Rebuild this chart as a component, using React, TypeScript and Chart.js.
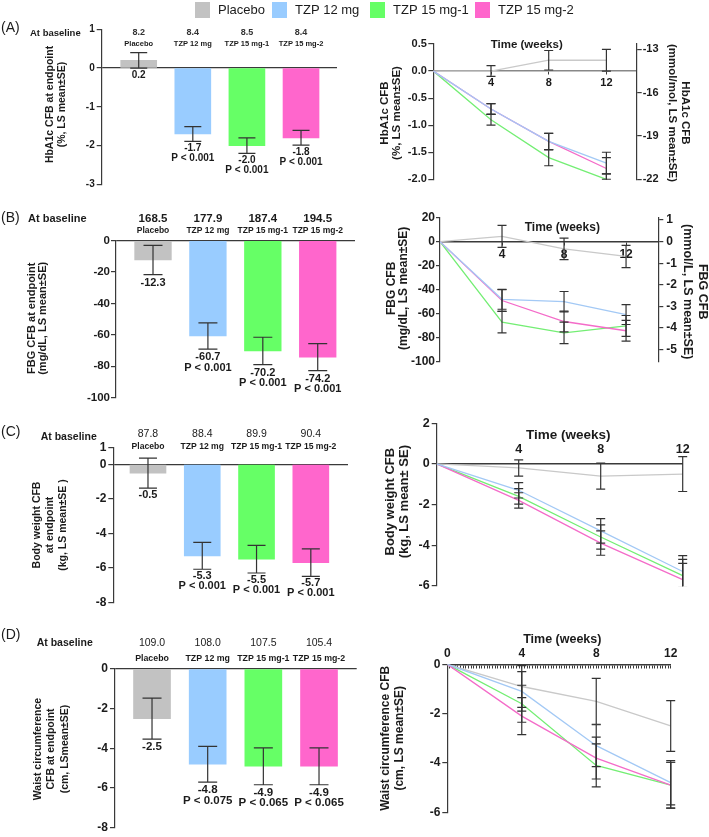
import React, { useEffect, useRef } from "react";
import { Chart, registerables } from "chart.js";

Chart.register(...registerables);

const W = 709;
const H = 837;
const FONT = "'Liberation Sans', Arial, Helvetica, sans-serif";
const TXT = "#1b1b1b";
const AXIS = "#3a3a3a";
const ERR = "#333333";

// ===== shared categories =====
const groups = ["Placebo", "TZP 12 mg", "TZP 15 mg-1", "TZP 15 mg-2"];
const barColors = ["#c2c2c2", "#99ccff", "#66ff66", "#ff66cc"];
const lineColors = ["#c9c9c9", "#a3c9f5", "#74ee74", "#f46cc9"];
const weeks = [0, 4, 8, 12];

// ===== (A) HbA1c =====
const hba1cBaseline = ["8.2", "8.4", "8.5", "8.4"];
const hba1cEndpoint = [0.2, -1.7, -2.0, -1.8];
const hba1cEndpointSE = [0.2, 0.19, 0.2, 0.19];
const hba1cP = ["", "P < 0.001", "P < 0.001", "P < 0.001"];
const hba1cBarTicks = [1, 0, -1, -2, -3];
const hba1cPlacebo = [0, 0, 0.2, 0.2];
const hba1cPlaceboSE = [0, 0.1, 0.18, 0.2];
const hba1cTzp12 = [0, -0.7, -1.3, -1.7];
const hba1cTzp12SE = [0, 0.1, 0.15, 0.2];
const hba1cTzp15a = [0, -0.9, -1.6, -2.0];
const hba1cTzp15aSE = [0, 0.1, 0.15, 0.1];
const hba1cTzp15b = [0, -0.7, -1.3, -1.8];
const hba1cTzp15bSE = [0, 0.1, 0.15, 0.2];
const hba1cLineTicks = [0.5, 0, -0.5, -1, -1.5, -2];
const hba1cMmolTicks = [-13, -16, -19, -22];

// ===== (B) FBG =====
const fbgBaseline = ["168.5", "177.9", "187.4", "194.5"];
const fbgEndpoint = [-12.3, -60.7, -70.2, -74.2];
const fbgEndpointSE = [9.3, 8.3, 8.7, 8.6];
const fbgP = ["", "P < 0.001", "P < 0.001", "P < 0.001"];
const fbgBarTicks = [0, -20, -40, -60, -80, -100];
const fbgPlacebo = [0, 4.4, -6, -12.3];
const fbgPlaceboSE = [0, 9.2, 9, 9.3];
const fbgTzp12 = [0, -48, -50, -60.7];
const fbgTzp12SE = [0, 8.3, 8.5, 8.3];
const fbgTzp15a = [0, -67, -76, -70.2];
const fbgTzp15aSE = [0, 9, 9, 8.7];
const fbgTzp15b = [0, -49, -66.5, -74.2];
const fbgTzp15bSE = [0, 9, 8.7, 8.6];
const fbgLineTicks = [20, 0, -20, -40, -60, -80, -100];
const fbgMmolTicks = [1, 0, -1, -2, -3, -4, -5];
const mgdlPerMmol = 18;

// ===== (C) Body weight =====
const bwBaseline = ["87.8", "88.4", "89.9", "90.4"];
const bwEndpoint = [-0.5, -5.3, -5.5, -5.7];
const bwEndpointSE = [0.87, 0.78, 0.8, 0.8];
const bwP = ["", "P < 0.001", "P < 0.001", "P < 0.001"];
const bwBarTicks = [1, 0, -2, -4, -6, -8];
const bwPlacebo = [0, -0.2, -0.6, -0.5];
const bwPlaceboSE = [0, 0.4, 0.64, 0.86];
const bwTzp12 = [0, -1.3, -3.3, -5.3];
const bwTzp12SE = [0, 0.38, 0.6, 0.78];
const bwTzp15a = [0, -1.6, -3.6, -5.5];
const bwTzp15aSE = [0, 0.38, 0.6, 0.8];
const bwTzp15b = [0, -1.8, -3.9, -5.7];
const bwTzp15bSE = [0, 0.38, 0.6, 0.8];
const bwLineTicks = [2, 0, -2, -4, -6];

// ===== (D) Waist circumference =====
const wcBaseline = ["109.0", "108.0", "107.5", "105.4"];
const wcEndpoint = [-2.5, -4.8, -4.9, -4.9];
const wcEndpointSE = [1.03, 0.9, 0.93, 0.93];
const wcP = ["", "P < 0.075", "P < 0.065", "P < 0.065"];
const wcBarTicks = [0, -2, -4, -6, -8];
const wcPlacebo = [0, -0.9, -1.5, -2.5];
const wcPlaceboSE = [0, 0.85, 0.93, 1.03];
const wcTzp12 = [0, -1.1, -3.3, -4.8];
const wcTzp12SE = [0, 0.8, 0.85, 0.9];
const wcTzp15a = [0, -1.6, -4.1, -4.9];
const wcTzp15aSE = [0, 0.75, 0.87, 0.93];
const wcTzp15b = [0, -2.1, -3.8, -4.9];
const wcTzp15bSE = [0, 0.75, 0.85, 0.93];
const wcLineTicks = [0, -2, -4, -6];
const weekTicks = [4, 8, 12];
const dayTicks = Array.from({ length: 85 }, (_, i) => i / 7);

// ===== helpers =====
const f = (size: number, weight: string = "bold") => `${weight} ${size}px ${FONT}`;
const int = (v: number) => String(v);
const oneDec = (v: number) => (v === 0 ? "0.0" : v.toFixed(1));

type VTitle = { lines: string[]; x: number; y: number; font: number; lh: number; dir: number };

function drawVTitle(ctx: CanvasRenderingContext2D, t: VTitle) {
  ctx.save();
  ctx.translate(t.x, t.y);
  ctx.rotate((t.dir * Math.PI) / 2);
  ctx.font = f(t.font);
  ctx.fillStyle = TXT;
  ctx.textAlign = "center";
  ctx.textBaseline = "middle";
  t.lines.forEach((s, i) => ctx.fillText(s, 0, i * t.lh));
  ctx.restore();
}

function yAxis(o: any) {
  return {
    type: "linear",
    position: o.position || "left",
    min: o.min,
    max: o.max,
    afterFit: (s: any) => {
      s.width = 40;
    },
    afterBuildTicks: (s: any) => {
      s.ticks = o.ticks.map((v: number) => ({ value: v }));
    },
    ticks: {
      callback: (v: number) => o.fmt(v),
      font: { family: FONT, size: o.tickFont, weight: "bold" },
      color: TXT,
      padding: o.tickPad,
      autoSkip: false,
    },
    grid: {
      display: true,
      drawOnChartArea: !!o.zeroLine,
      color: (c: any) => (o.zeroLine && c.tick && c.tick.value === 0 ? AXIS : "rgba(0,0,0,0)"),
      tickColor: AXIS,
      tickLength: o.tickLen,
      lineWidth: 1.2,
    },
    border: { display: true, color: o.borderColor || AXIS, width: 1.2 },
    title: { display: false },
  };
}

// ===== bar panels =====
type BarPanel = any;

const barPanels: BarPanel[] = [
  {
    letter: "(A)", letterY: 28, legend: true,
    baseline: hba1cBaseline, values: hba1cEndpoint, se: hba1cEndpointSE, pvals: hba1cP,
    yMin: -3, yMax: 1, yTicks: hba1cBarTicks, fmt: int,
    area: { l: 101.7, t: 29.3, r: 337, b: 184.3 },
    xMin: -0.684, xMax: 3.665, barW: 36, cap: 17,
    tickFont: 10, tickPad: 2, tickLen: 5,
    title: { lines: ["HbA1c CFB at endpoint", "(%, LS mean±SE)"], x: 50, y: 104.5, font: 10.5, lh: 11.7, dir: -1 },
    head: { atX: 30, atY: 33.3, atFont: 9.5, valY: 33, valFont: 9, valWeight: "bold", valColor: "#333", nameY: 44.3, nameFont: 7.5 },
    lab: { font: 10, gap: 2, step: 10 },
  },
  {
    letter: "(B)", letterY: 218.3,
    baseline: fbgBaseline, values: fbgEndpoint, se: fbgEndpointSE, pvals: fbgP,
    yMin: -100, yMax: 0, yTicks: fbgBarTicks, fmt: int,
    area: { l: 116, t: 240.7, r: 355, b: 397.7 },
    xMin: -0.674, xMax: 3.679, barW: 36.7, cap: 19,
    tickFont: 11.5, tickPad: 1, tickLen: 5,
    title: { lines: ["FBG CFB at endpoint", "(mg/dL, LS mean±SE)"], x: 32.3, y: 318.3, font: 11, lh: 11, dir: -1 },
    head: { atX: 28, atY: 219, atFont: 11, valY: 219, valFont: 11.5, valWeight: "bold", valColor: TXT, nameY: 231, nameFont: 8.5 },
    lab: { font: 11, gap: 2.5, step: 10.7 },
  },
  {
    letter: "(C)", letterY: 431.7,
    baseline: bwBaseline, values: bwEndpoint, se: bwEndpointSE, pvals: bwP,
    yMin: -8, yMax: 1, yTicks: bwBarTicks, fmt: int,
    area: { l: 113.3, t: 447.3, r: 348, b: 602.3 },
    xMin: -0.639, xMax: 3.685, barW: 36, cap: 18,
    tickFont: 12, tickPad: 2, tickLen: 5,
    title: { lines: ["Body weight CFB", "at endpoint", "(kg, LS mean±SE )"], x: 37.3, y: 525, font: 10.5, lh: 13, dir: -1 },
    head: { atX: 40.7, atY: 437.3, atFont: 10.5, valY: 434.3, valFont: 10.5, valWeight: "normal", valColor: TXT, nameY: 446.7, nameFont: 8.6 },
    lab: { font: 11, gap: 1.5, step: 9.5 },
  },
  {
    letter: "(D)", letterY: 635,
    baseline: wcBaseline, values: wcEndpoint, se: wcEndpointSE, pvals: wcP,
    yMin: -8, yMax: 0, yTicks: wcBarTicks, fmt: int,
    area: { l: 115, t: 669, r: 356.7, b: 829.3 },
    xMin: -0.665, xMax: 3.677, barW: 37, cap: 19,
    tickFont: 12, tickPad: 2, tickLen: 5,
    title: { lines: ["Waist circumference", "CFB at endpoint", "(cm, LSmean±SE)"], x: 38.3, y: 749, font: 10.5, lh: 13.3, dir: -1 },
    head: { atX: 36.7, atY: 643.3, atFont: 10.5, valY: 643.3, valFont: 10.5, valWeight: "normal", valColor: TXT, nameY: 658.3, nameFont: 8.8 },
    lab: { font: 11.5, gap: 2, step: 10.7 },
  },
];

const legendX = [195, 272, 370, 475];

function barPlugin(p: BarPanel) {
  return {
    id: "barDeco",
    afterDatasetsDraw(chart: any) {
      const ctx: CanvasRenderingContext2D = chart.ctx;
      const ys = chart.scales.y;
      const meta = chart.getDatasetMeta(0);
      ctx.save();
      meta.data.forEach((el: any, j: number) => {
        const x = el.x;
        const hi = ys.getPixelForValue(p.values[j] + p.se[j]);
        const lo = ys.getPixelForValue(p.values[j] - p.se[j]);
        const c = p.cap / 2;
        ctx.strokeStyle = ERR;
        ctx.lineWidth = 1.2;
        ctx.beginPath();
        ctx.moveTo(x, hi);
        ctx.lineTo(x, lo);
        ctx.moveTo(x - c, hi);
        ctx.lineTo(x + c, hi);
        ctx.moveTo(x - c, lo);
        ctx.lineTo(x + c, lo);
        ctx.stroke();

        ctx.fillStyle = TXT;
        ctx.textAlign = "center";
        ctx.textBaseline = "top";
        ctx.font = f(p.lab.font);
        ctx.fillText(p.values[j].toFixed(1), x, lo + p.lab.gap);
        if (p.pvals[j]) ctx.fillText(p.pvals[j], x, lo + p.lab.gap + p.lab.step);

        ctx.textBaseline = "middle";
        ctx.font = f(p.head.valFont, p.head.valWeight);
        ctx.fillStyle = p.head.valColor;
        ctx.fillText(p.baseline[j], x, p.head.valY);
        ctx.font = f(p.head.nameFont);
        ctx.fillStyle = TXT;
        ctx.fillText(groups[j], x, p.head.nameY);
      });

      ctx.textAlign = "left";
      ctx.textBaseline = "middle";
      ctx.fillStyle = TXT;
      ctx.font = f(p.head.atFont);
      ctx.fillText("At baseline", p.head.atX, p.head.atY);
      ctx.font = f(14, "normal");
      ctx.fillText(p.letter, 1, p.letterY);
      drawVTitle(ctx, p.title);

      if (p.legend) {
        groups.forEach((g, i) => {
          ctx.fillStyle = barColors[i];
          ctx.fillRect(legendX[i], 2, 15, 16);
          ctx.fillStyle = TXT;
          ctx.font = f(13, "normal");
          ctx.textAlign = "left";
          ctx.textBaseline = "middle";
          ctx.fillText(g, legendX[i] + 23, 10.5);
        });
      }
      ctx.restore();
    },
  };
}

function barConfig(p: BarPanel) {
  const padding = { left: p.area.l - 40, top: p.area.t, right: W - p.area.r, bottom: H - p.area.b };
  return {
    type: "bar",
    data: {
      datasets: [
        {
          data: p.values.map((v: number, i: number) => ({ x: i, y: v })),
          backgroundColor: barColors,
          borderWidth: 0,
          barThickness: p.barW,
        },
      ],
    },
    options: {
      responsive: false,
      animation: false,
      events: [],
      layout: { padding },
      plugins: { legend: { display: false }, tooltip: { enabled: false }, title: { display: false } },
      scales: {
        x: { type: "linear", min: p.xMin, max: p.xMax, display: false, offset: false },
        y: yAxis({ min: p.yMin, max: p.yMax, ticks: p.yTicks, fmt: p.fmt, tickFont: p.tickFont, tickPad: p.tickPad, tickLen: p.tickLen, zeroLine: true }),
      },
    },
    plugins: [barPlugin(p)],
  };
}

// ===== line panels =====
type LinePanel = any;

const linePanels: LinePanel[] = [
  {
    series: [
      { v: hba1cPlacebo, se: hba1cPlaceboSE },
      { v: hba1cTzp12, se: hba1cTzp12SE },
      { v: hba1cTzp15a, se: hba1cTzp15aSE },
      { v: hba1cTzp15b, se: hba1cTzp15bSE },
    ],
    area: { l: 433.3, t: 44, r: 636.7, b: 179.3 },
    y: { min: -2, max: 0.5, ticks: hba1cLineTicks, fmt: oneDec, tickFont: 11, tickPad: 1.5, tickLen: 5 },
    y2: { min: -22, max: -12.63, ticks: hba1cMmolTicks, fmt: int, tickFont: 11, tickPad: 1, tickLen: 5 },
    titles: [
      { lines: ["HbA1c CFB", "(%, LS mean±SE)"], x: 385, y: 113, font: 11.5, lh: 11.7, dir: -1 },
      { lines: ["HbA1c CFB", "(mmol/mol, LS mean±SE)"], x: 685, y: 113, font: 11.5, lh: 12.5, dir: 1 },
    ],
    x: { max: 14.1, ticks: weekTicks, label: int, font: 11, pad: 2, tickLen: 3, color: "#888", width: 1.5, dash: [] },
    time: { x: 526.7, y: 45, font: 11.5 },
    cap: 9,
  },
  {
    series: [
      { v: fbgPlacebo, se: fbgPlaceboSE },
      { v: fbgTzp12, se: fbgTzp12SE },
      { v: fbgTzp15a, se: fbgTzp15aSE },
      { v: fbgTzp15b, se: fbgTzp15bSE },
    ],
    area: { l: 440, t: 217.7, r: 658.3, b: 361.7 },
    y: { min: -100, max: 20, ticks: fbgLineTicks, fmt: int, tickFont: 12, tickPad: 1, tickLen: 4 },
    y2: { min: -100 / mgdlPerMmol, max: 20 / mgdlPerMmol, ticks: fbgMmolTicks, fmt: int, tickFont: 12, tickPad: 3, tickLen: 5 },
    titles: [
      { lines: ["FBG CFB", "(mg/dL, LS mean±SE)"], x: 391.7, y: 288.3, font: 12, lh: 11.8, dir: -1 },
      { lines: ["FBG CFB", "(mmol/L, LS mean±SE)"], x: 702, y: 291.7, font: 12.5, lh: 14.3, dir: 1 },
    ],
    x: { max: 14.08, ticks: weekTicks, label: int, font: 12, pad: 3, tickLen: 3, color: AXIS, width: 1.5, dash: [] },
    time: { x: 562.3, y: 227.3, font: 12 },
    cap: 9,
  },
  {
    series: [
      { v: bwPlacebo, se: bwPlaceboSE },
      { v: bwTzp12, se: bwTzp12SE },
      { v: bwTzp15a, se: bwTzp15aSE },
      { v: bwTzp15b, se: bwTzp15bSE },
    ],
    area: { l: 436.7, t: 423.3, r: 682.7, b: 585.7 },
    y: { min: -6, max: 2, ticks: bwLineTicks, fmt: int, tickFont: 12.5, tickPad: 2, tickLen: 5 },
    titles: [{ lines: ["Body weight CFB", "(kg, LS mean± SE)"], x: 390, y: 501.7, font: 13, lh: 14.5, dir: -1 }],
    x: { max: 12, ticks: weekTicks, label: int, font: 12.5, pad: -22, tickLen: 0, color: AXIS, width: 1.5, dash: [] },
    time: { x: 568.3, y: 435, font: 13.5 },
    cap: 9,
  },
  {
    series: [
      { v: wcPlacebo, se: wcPlaceboSE },
      { v: wcTzp12, se: wcTzp12SE },
      { v: wcTzp15a, se: wcTzp15aSE },
      { v: wcTzp15b, se: wcTzp15bSE },
    ],
    area: { l: 447.3, t: 664.3, r: 670.7, b: 812.3 },
    y: { min: -6, max: 0, ticks: wcLineTicks, fmt: int, tickFont: 12, tickPad: 2, tickLen: 5 },
    titles: [{ lines: ["Waist circumference CFB", "(cm, LS mean±SE)"], x: 385.7, y: 738.3, font: 12, lh: 14.3, dir: -1 }],
    x: {
      max: 12, ticks: dayTicks,
      label: (v: number) => {
        const d = Math.round(v * 7);
        return d % 28 === 0 ? String(d / 7) : "";
      },
      font: 12, pad: -21, tickLen: 3, color: AXIS, width: 1.5, dash: [],
    },
    time: { x: 562.3, y: 639.3, font: 12.5 },
    cap: 9,
  },
];

const drawOrder = [3, 0, 2, 1];

function linePlugin(p: LinePanel) {
  return {
    id: "lineDeco",
    afterDatasetsDraw(chart: any) {
      const ctx: CanvasRenderingContext2D = chart.ctx;
      const ys = chart.scales.y;
      const xs = chart.scales.x;
      const ca = chart.chartArea;
      ctx.save();
      ctx.beginPath();
      ctx.rect(0, ca.top - 0.5, W, ca.bottom - ca.top + 1);
      ctx.clip();
      ctx.strokeStyle = ERR;
      ctx.lineWidth = 1.2;
      p.series.forEach((s: any) => {
        s.v.forEach((v: number, j: number) => {
          const e = s.se[j];
          if (!e) return;
          const x = xs.getPixelForValue(weeks[j]);
          const hi = ys.getPixelForValue(v + e);
          const lo = ys.getPixelForValue(v - e);
          const c = p.cap / 2;
          ctx.beginPath();
          ctx.moveTo(x, hi);
          ctx.lineTo(x, lo);
          ctx.moveTo(x - c, hi);
          ctx.lineTo(x + c, hi);
          ctx.moveTo(x - c, lo);
          ctx.lineTo(x + c, lo);
          ctx.stroke();
        });
      });
      ctx.restore();

      ctx.save();
      ctx.fillStyle = TXT;
      ctx.textAlign = "center";
      ctx.textBaseline = "middle";
      ctx.font = f(p.time.font);
      ctx.fillText("Time (weeks)", p.time.x, p.time.y);
      p.titles.forEach((t: VTitle) => drawVTitle(ctx, t));
      ctx.restore();
    },
  };
}

function lineConfig(p: LinePanel) {
  const rightW = p.y2 ? 40 : 0;
  const padding = { left: p.area.l - 40, top: p.area.t, right: W - p.area.r - rightW, bottom: H - p.area.b };
  const scales: any = {
    x: {
      type: "linear",
      min: 0,
      max: p.x.max,
      position: { y: 0 },
      afterBuildTicks: (s: any) => {
        s.ticks = p.x.ticks.map((v: number) => ({ value: v }));
      },
      ticks: {
        callback: (v: number) => p.x.label(v),
        font: { family: FONT, size: p.x.font, weight: "bold" },
        color: TXT,
        padding: p.x.pad,
        autoSkip: false,
        maxRotation: 0,
        minRotation: 0,
      },
      grid: {
        display: true,
        drawOnChartArea: false,
        drawTicks: p.x.tickLen > 0,
        tickLength: p.x.tickLen,
        tickColor: AXIS,
        lineWidth: 1,
      },
      border: { display: true, color: p.x.color, width: p.x.width, dash: p.x.dash },
    },
    y: yAxis({ ...p.y }),
  };
  if (p.y2) scales.y2 = yAxis({ ...p.y2, position: "right" });
  return {
    type: "line",
    data: {
      datasets: p.series.map((s: any, i: number) => ({
        data: s.v.map((v: number, j: number) => ({ x: weeks[j], y: v })),
        borderColor: lineColors[i],
        backgroundColor: lineColors[i],
        borderWidth: 1.3,
        pointRadius: 0,
        tension: 0,
        fill: false,
        order: drawOrder[i],
        yAxisID: "y",
      })),
    },
    options: {
      responsive: false,
      animation: false,
      events: [],
      layout: { padding },
      plugins: { legend: { display: false }, tooltip: { enabled: false }, title: { display: false } },
      scales,
    },
    plugins: [linePlugin(p)],
  };
}

const makers = [
  ...barPanels.map((p) => () => barConfig(p)),
  ...linePanels.map((p) => () => lineConfig(p)),
];

function ChartCanvas({ make }: { make: () => any }) {
  const ref = useRef<HTMLCanvasElement | null>(null);
  useEffect(() => {
    const chart = new Chart(ref.current as HTMLCanvasElement, make());
    return () => chart.destroy();
  }, []);
  return (
    <canvas
      ref={ref}
      width={W}
      height={H}
      style={{ position: "absolute", left: 0, top: 0, width: W, height: H }}
    />
  );
}

export default function App() {
  return (
    <div style={{ position: "absolute", left: 0, top: 0, width: W, height: H, background: "#fff", overflow: "hidden" }}>
      {makers.map((m, i) => (
        <ChartCanvas key={i} make={m} />
      ))}
    </div>
  );
}
